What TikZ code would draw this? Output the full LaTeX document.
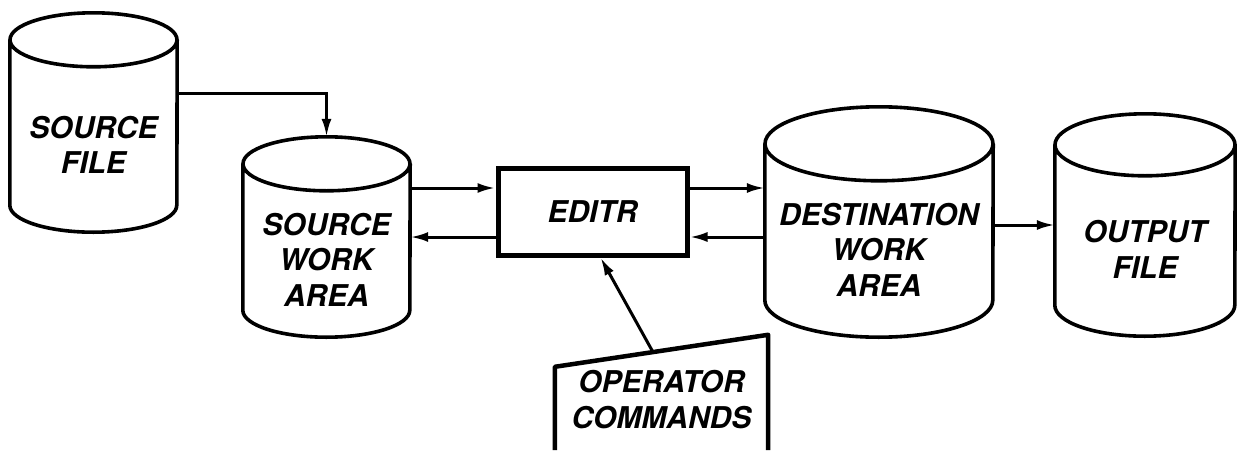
\documentclass[tikz,border=0pt]{standalone}
\usepackage{fontspec}
\setmainfont{TeX Gyre Heros}
\usetikzlibrary{arrows.meta,calc}

\begin{document}
\begin{tikzpicture}
    [x=1pt,y=1pt,
     rim/.style={line width=3.6pt,line join=round},
     flow/.style={-{Latex[length=18pt,width=10pt]},line width=3pt},
     store/.style={align=center,inner sep=0pt,
       font=\fontsize{30}{35.5}\selectfont\bfseries\itshape},
     editbox/.style={store,draw,line width=5pt}]
    \useasboundingbox (0,0) rectangle (1237,-450);
    % stores: the node covers the lower part of the body
    \node [store,minimum width=167,minimum height=120] (srcfile) at (93.5,-145) {SOURCE\\FILE};
    \node [store,minimum width=167,minimum height=101] (srcwork) at (326.5,-259.5) {SOURCE\\WORK\\AREA};
    \node [store,minimum width=228,minimum height=101] (dstwork) at (879,-249.5) {DESTINATION\\WORK\\AREA};
    \node [store,minimum width=180,minimum height=111] (outfile) at (1145,-249.5) {OUTPUT\\FILE};
    \foreach \n/\rx/\ry/\up in {srcfile/83.5/27/45,srcwork/83.5/27/45,dstwork/114/37/55,outfile/90/31/49}
      \draw [rim] ([yshift=\up]\n.north west) -- (\n.south west)
        arc [start angle=180,end angle=360,x radius=\rx,y radius=\ry]
        -- ([yshift=\up]\n.north east)
        ([yshift=\up]\n.north) ellipse [x radius=\rx,y radius=\ry];
    % editor and operator input
    \node [editbox,minimum width=189,minimum height=87] (editr) at (592.5,-211.5) {EDITR};
    \node [store,minimum width=213,minimum height=101] (opcmd) at (661.5,-399.5) {OPERATOR\\COMMANDS};
    \draw [rim,line width=4.5pt] (opcmd.south west) -- ([yshift=-18]opcmd.north west)
      -- ([yshift=14]opcmd.north east) -- (opcmd.south east);
    % data flow
    \draw [flow] ([yshift=52]srcfile.east) -| ([yshift=72]srcwork.north);
    \draw [flow] ([yshift=71.5]srcwork.east) -- ([yshift=23.5]editr.west);
    \draw [flow] ([yshift=-25.5]editr.west) -- ([yshift=22.5]srcwork.east);
    \draw [flow] ([yshift=23.5]editr.east) -- ([yshift=61.5]dstwork.west);
    \draw [flow] ([yshift=12.5]dstwork.west) -- ([yshift=-25.5]editr.east);
    \draw [flow] ([yshift=24.5]dstwork.east) -- ([yshift=24.5]outfile.west);
    \draw [flow] ($([yshift=-18]opcmd.north west)!0.46!([yshift=14]opcmd.north east)$) -- ([xshift=8]editr.south);
\end{tikzpicture}
\end{document}
